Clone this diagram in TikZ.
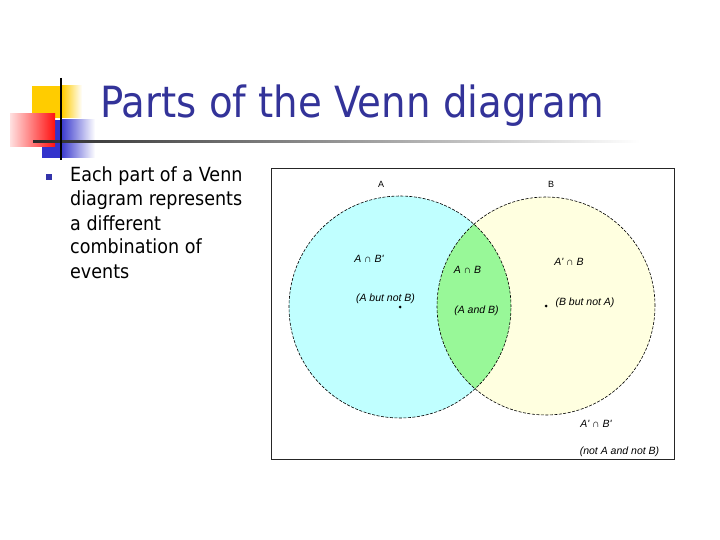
\documentclass[tikz,border=0pt]{standalone}
\usepackage{fontspec}
\setmainfont{DejaVu Sans}[FakeStretch=0.9]
\newfontfamily\arialf{Liberation Sans}
\definecolor{titleblue}{HTML}{333399}
\definecolor{logoyellow}{HTML}{FFCC00}
\definecolor{logoblue}{HTML}{3333CC}
\definecolor{logored}{HTML}{FF1010}
\definecolor{bulletblue}{HTML}{3333AA}
\definecolor{cyanfill}{HTML}{C0FFFF}
\definecolor{yellowfill}{HTML}{FFFFE0}
\definecolor{greenfill}{HTML}{98F898}
\definecolor{linestart}{HTML}{2A2A2A}
\tikzset{
  bodytext/.style={anchor=base west, inner sep=0, font=\fontsize{19.5}{24}\selectfont},
  lbl/.style={inner sep=0, font=\arialf\itshape\fontsize{10.5}{12}\selectfont},
  setname/.style={inner sep=0, font=\arialf\fontsize{9}{10}\selectfont},
  venncircle/.style={draw=black, line width=0.6pt, dash pattern=on 3pt off 1.5pt},
  cdot/.style={circle, fill=black, inner sep=0, minimum size=3pt}
}
\begin{document}
\begin{tikzpicture}[x=1pt,y=-1pt]
\useasboundingbox (0,0) rectangle (720,540);
% logo
\fill[logoyellow] (32,86) rectangle (62,118);
\shade[left color=logoyellow,right color=white] (62,86) rectangle (82,118);
\fill[logoblue] (42,120) rectangle (60,158);
\shade[left color=logoblue,right color=white] (60,120) rectangle (95,158);
\shade[left color=white!88!red,right color=logored] (10,114) rectangle (55,147);
\shade[left color=linestart,right color=white] (33,140.3) rectangle (640,142.8);
\draw[line width=2pt] (61,78) -- (61,160);
% title
\node[anchor=base west, inner sep=0, text=titleblue, font=\fontsize{43}{43}\selectfont] (title) at (100,118) {Parts of the Venn diagram};
% bullet and body
\node[fill=bulletblue, minimum size=6pt, inner sep=0] (bullet) at (49,177) {};
\node[bodytext] (b1) at (70,182) {Each part of a Venn};
\node[bodytext] (b2) at (70,206) {diagram represents};
\node[bodytext] (b3) at (70,230) {a different};
\node[bodytext] (b4) at (70,254) {combination of};
\node[bodytext] (b5) at (70,278) {events};
% diagram frame
\draw[line width=0.8pt, black!85] (271,168) rectangle (674,459);
\coordinate (ca) at (400,307);
\coordinate (cb) at (546,306);
\fill[cyanfill] (ca) circle (111pt);
\fill[yellowfill] (cb) circle (109pt);
\begin{scope}
  \clip (ca) circle (111pt);
  \fill[greenfill] (cb) circle (109pt);
\end{scope}
\draw[venncircle] (ca) circle (111pt);
\draw[venncircle] (cb) circle (109pt);
\node[cdot] (da) at (ca) {};
\node[cdot] (db) at (cb) {};
% labels
\node[setname] (la) at (381,184) {A};
\node[setname] (lb) at (551,184) {B};
\node[lbl] (l1) at (369,259) {A ∩ B'};
\node[lbl] (l2) at (385.5,299) {(A but not B)};
\node[lbl] (l3) at (467.5,270) {A ∩ B};
\node[lbl] (l4) at (476.5,311) {(A and B)};
\node[lbl] (l5) at (569,262) {A' ∩ B};
\node[lbl] (l6) at (585,303) {(B but not A)};
\node[lbl] (l7) at (596,424) {A' ∩ B'};
\node[lbl] (l8) at (619.5,452) {(not A and not B)};
\end{tikzpicture}
\end{document}
